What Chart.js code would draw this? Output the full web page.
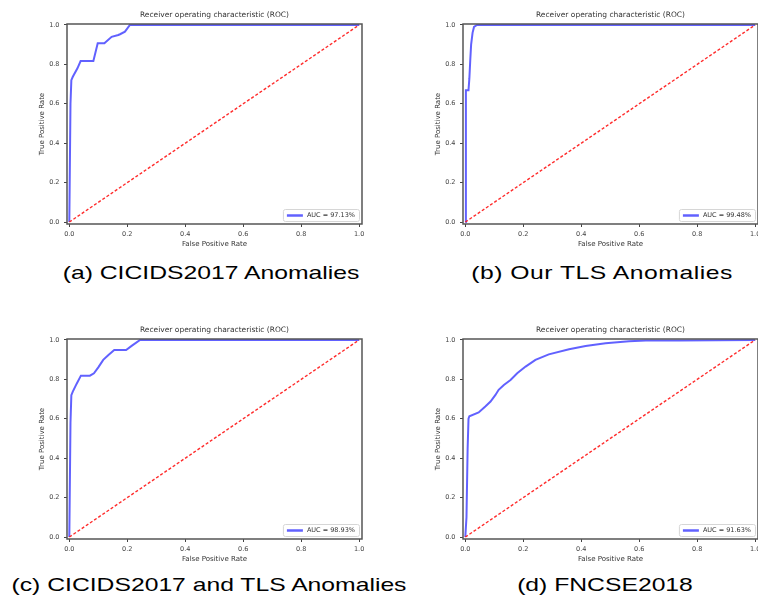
<!DOCTYPE html>
<html><head><meta charset="utf-8">
<script src="https://cdn.jsdelivr.net/npm/chart.js@4.4.1/dist/chart.umd.min.js"></script>
<style>
html,body{margin:0;padding:0;width:758px;height:606px;overflow:hidden;background:#fff;position:relative;}
.panel{position:absolute;width:379px;height:250px;}
.cap{position:absolute;font-family:"Liberation Sans",Arial,sans-serif;font-size:19px;color:#000;white-space:nowrap;transform:translate(-50%,-50%) scaleX(1.3);}
</style></head><body>
<div class="panel" style="left:0;top:0"><canvas id="c0" width="379" height="250"></canvas></div>
<div class="panel" style="left:396px;top:0"><canvas id="c1" width="379" height="250"></canvas></div>
<div class="panel" style="left:0;top:315px"><canvas id="c2" width="379" height="250"></canvas></div>
<div class="panel" style="left:396px;top:315px"><canvas id="c3" width="379" height="250"></canvas></div>
<div class="cap" id="cap0" style="left:211px;top:273px"></div>
<div class="cap" id="cap1" style="left:602px;top:273px;letter-spacing:0.4px"></div>
<div class="cap" id="cap2" style="left:209px;top:585px"></div>
<div class="cap" id="cap3" style="left:605px;top:585px"></div>
<script>
// ---- data ----
const xTicks = [0, 0.2, 0.4, 0.6, 0.8, 1.0];
const yTicks = [0, 0.2, 0.4, 0.6, 0.8, 1.0];
const chartTitle = 'Receiver operating characteristic (ROC)';
const xLabel = 'False Positive Rate';
const yLabel = 'True Positive Rate';
const captions = ['(a) CICIDS2017 Anomalies', '(b) Our TLS Anomalies', '(c) CICIDS2017 and TLS Anomalies', '(d) FNCSE2018'];
const aucLabels = ['AUC = 97.13%', 'AUC = 99.48%', 'AUC = 98.93%', 'AUC = 91.63%'];

const fprA = [0, 0.004, 0.007, 0.012, 0.028, 0.039, 0.083, 0.098, 0.121, 0.146, 0.169, 0.175, 0.192, 0.209, 1.0];
const tprA = [0, 0.60, 0.72, 0.737, 0.78, 0.817, 0.817, 0.907, 0.907, 0.94, 0.949, 0.953, 0.966, 1.0, 1.0];

const fprB = [0, 0.002, 0.011, 0.014, 0.017, 0.020, 0.025, 0.030, 0.040, 1.0];
const tprB = [0, 0.669, 0.669, 0.73, 0.82, 0.90, 0.96, 0.99, 1.0, 1.0];

const fprC = [0, 0.004, 0.007, 0.012, 0.025, 0.040, 0.071, 0.085, 0.100, 0.117, 0.135, 0.155, 0.196, 0.215, 0.244, 1.0];
const tprC = [0, 0.58, 0.72, 0.738, 0.777, 0.819, 0.819, 0.831, 0.861, 0.899, 0.924, 0.949, 0.949, 0.970, 1.0, 1.0];

const fprD = [0, 0.004, 0.008, 0.011, 0.014, 0.046, 0.069, 0.087, 0.104, 0.115, 0.133, 0.156, 0.179, 0.208, 0.242, 0.288, 0.358, 0.415, 0.484, 0.565, 0.623, 0.738, 1.0];
const tprD = [0, 0.10, 0.45, 0.60, 0.613, 0.632, 0.662, 0.6875, 0.721, 0.747, 0.772, 0.797, 0.831, 0.865, 0.899, 0.927, 0.953, 0.970, 0.983, 0.993, 0.997, 0.998, 1.0];

const chanceFpr = [0, 1];
const chanceTpr = [0, 1];

const curves = [[fprA, tprA], [fprB, tprB], [fprC, tprC], [fprD, tprD]];

// ---- plugins ----
const framePlugin = {
  id: 'frame',
  afterDraw(chart) {
    const {ctx, chartArea: a} = chart;
    ctx.save();
    ctx.strokeStyle = '#555';
    ctx.lineWidth = 1.5;
    ctx.strokeRect(a.left, a.top, a.right - a.left, a.bottom - a.top);
    ctx.restore();
  }
};
const aucLegend = {
  id: 'aucLegend',
  afterDraw(chart) {
    const ds = chart.data.datasets.find(d => d.label);
    const {ctx, chartArea: a} = chart;
    ctx.save();
    ctx.font = '6.5px "DejaVu Sans"';
    const tw = ctx.measureText(ds.label).width;
    const w = 4 + 16 + 4 + tw + 4, h = 12;
    const x = a.right - 3 - w, y = a.bottom - 3 - h;
    ctx.fillStyle = 'rgba(255,255,255,0.85)';
    ctx.strokeStyle = '#d6d6d6';
    ctx.lineWidth = 1;
    ctx.beginPath();
    ctx.roundRect(x + 0.5, y + 0.5, w, h, 2);
    ctx.fill(); ctx.stroke();
    ctx.strokeStyle = ds.borderColor;
    ctx.lineWidth = 2.5;
    ctx.beginPath();
    ctx.moveTo(x + 4, y + h / 2 + 0.5);
    ctx.lineTo(x + 20, y + h / 2 + 0.5);
    ctx.stroke();
    ctx.fillStyle = '#333';
    ctx.textBaseline = 'middle';
    ctx.fillText(ds.label, x + 24, y + h / 2 + 0.5);
    ctx.restore();
  }
};

const tickFont = {family: 'DejaVu Sans', size: 6.5};
const labelFont = {family: 'DejaVu Sans', size: 7};

function makeChart(id, idx) {
  const [fpr, tpr] = curves[idx];
  new Chart(document.getElementById(id), {
    type: 'scatter',
    data: {
      datasets: [
        {
          data: chanceFpr.map((v, i) => ({x: v, y: chanceTpr[i]})),
          showLine: true, borderColor: 'rgba(255,20,20,0.9)', borderWidth: 1.4,
          borderDash: [3, 2], pointRadius: 0, order: 0, clip: false
        },
        {
          label: aucLabels[idx],
          data: fpr.map((v, i) => ({x: v, y: tpr[i]})),
          showLine: true, borderColor: 'rgba(0,0,255,0.62)', borderWidth: 2,
          pointRadius: 0, order: 1, clip: false, tension: 0
        }
      ]
    },
    options: {
      responsive: false,
      animation: false,
      events: [],
      layout: {padding: {left: 0, right: 17, top: 0, bottom: 0}},
      plugins: {
        legend: {display: false},
        tooltip: {enabled: false},
        title: {
          display: true, text: chartTitle, fullSize: false,
          font: {family: 'DejaVu Sans', size: 7.5, weight: 'normal'}, color: '#333',
          padding: {top: 10.5, bottom: 4.5}
        }
      },
      scales: {
        x: {
          type: 'linear', min: -0.008, max: 1.01,
          afterBuildTicks: s => { s.ticks = xTicks.map(v => ({value: v})); },
          afterFit: s => { s.height = 26; },
          ticks: {font: tickFont, color: '#444', padding: 3.5, maxRotation: 0, callback: v => Number(v).toFixed(1)},
          grid: {display: true, drawOnChartArea: false, drawTicks: true, tickLength: 3, color: '#444'},
          border: {display: false},
          title: {display: true, text: xLabel, font: labelFont, color: '#333', padding: {top: 0, bottom: 1.5}}
        },
        y: {
          type: 'linear', min: -0.01, max: 1.005,
          afterBuildTicks: s => { s.ticks = yTicks.map(v => ({value: v})); },
          afterFit: s => { s.width = 67; },
          ticks: {font: tickFont, color: '#444', padding: 4.5, callback: v => Number(v).toFixed(1)},
          grid: {display: true, drawOnChartArea: false, drawTicks: true, tickLength: 3, color: '#444'},
          border: {display: false},
          title: {display: true, text: yLabel, font: labelFont, color: '#333', padding: {top: 37.5, bottom: 0}}
        }
      }
    },
    plugins: [framePlugin, aucLegend]
  });
}

['c0', 'c1', 'c2', 'c3'].forEach((id, i) => makeChart(id, i));
captions.forEach((t, i) => { document.getElementById('cap' + i).textContent = t; });
</script>
</body></html>
